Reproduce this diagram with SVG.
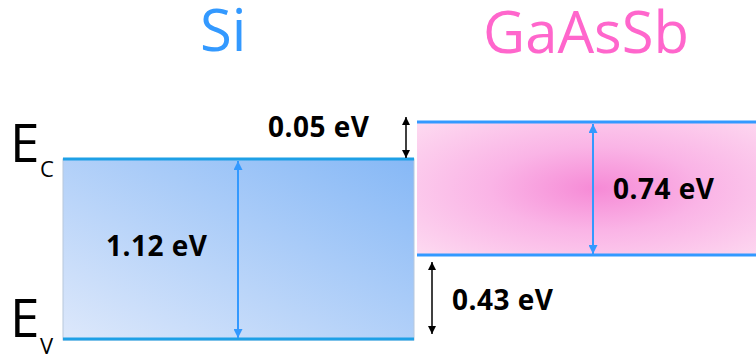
<svg xmlns="http://www.w3.org/2000/svg" width="756" height="360" viewBox="0 0 756 360">
<style>
.title{font-family:"Open Sans","Noto Sans",sans-serif;font-size:58px}
.lbl{font-family:"Open Sans","Noto Sans",sans-serif;font-weight:bold;font-size:28px;fill:#000;letter-spacing:0.5px}
.e{font-family:"Open Sans","Noto Sans",sans-serif;font-size:53px;fill:#000}
.sub{font-family:"Open Sans","Noto Sans",sans-serif;font-size:22px;fill:#000}
.band{stroke-width:3}
.blk{stroke:#000;stroke-width:1.5;fill:none}
.blu{stroke:#3399ff;stroke-width:2;fill:none}
</style>
<defs>
<linearGradient id="gSi" x1="0" y1="1" x2="1" y2="0">
<stop offset="0" stop-color="#dde8fb"/>
<stop offset="1" stop-color="#86b8f6"/>
</linearGradient>
<radialGradient id="gGa" cx="0.53" cy="0.5" r="0.7" gradientUnits="objectBoundingBox">
<stop offset="0" stop-color="#f68ad6"/>
<stop offset="0.45" stop-color="#fab4e6"/>
<stop offset="1" stop-color="#fdd8f0"/>
</radialGradient>
<marker id="ak" viewBox="0 0 10 10" refX="10" refY="5" markerWidth="8" markerHeight="8" orient="auto-start-reverse" markerUnits="userSpaceOnUse"><path d="M0,0 L10,5 L0,10 z" fill="#000"/></marker>
<marker id="ab" viewBox="0 0 10 10" refX="10" refY="5" markerWidth="9" markerHeight="9" orient="auto-start-reverse" markerUnits="userSpaceOnUse"><path d="M0,0 L10,5 L0,10 z" fill="#3399ff"/></marker>
</defs>
<g id="si">
<rect x="63" y="159" width="351" height="181" fill="url(#gSi)" stroke="#b8c8dc" stroke-width="1"/>
<line class="band" x1="63" y1="159" x2="414" y2="159" stroke="#1ea0e6"/>
<line class="band" x1="63" y1="339" x2="414" y2="339" stroke="#1ea0e6"/>
<text class="title" x="200" y="51" fill="#3399ff">Si</text>
<text class="lbl" x="106" y="256">1.12 eV</text>
</g>
<g id="gaassb">
<rect x="417" y="122" width="339" height="133" fill="url(#gGa)"/>
<line class="band" x1="417" y1="122" x2="756" y2="122" stroke="#3399ff"/>
<line class="band" x1="417" y1="255" x2="756" y2="255" stroke="#3399ff"/>
<text class="title" x="483" y="53" fill="#ff66cc">GaAsSb</text>
<text class="lbl" x="613" y="199">0.74 eV</text>
</g>
<g id="labels">
<text class="e" x="10" y="162">E</text><text class="sub" x="40" y="177">C</text>
<text class="e" x="10" y="337">E</text><text class="sub" x="40" y="354">V</text>
<text class="lbl" x="268" y="137">0.05 eV</text>
<text class="lbl" x="452" y="310">0.43 eV</text>
</g>
<g id="connectors">
<line class="blk" x1="406" y1="117" x2="406" y2="158" marker-start="url(#ak)" marker-end="url(#ak)"/>
<line class="blk" x1="432" y1="262" x2="432" y2="334" marker-start="url(#ak)" marker-end="url(#ak)"/>
<line class="blu" x1="238" y1="161" x2="238" y2="338" marker-start="url(#ab)" marker-end="url(#ab)"/>
<line class="blu" x1="593" y1="124" x2="593" y2="254" marker-start="url(#ab)" marker-end="url(#ab)"/>
</g>
</svg>
